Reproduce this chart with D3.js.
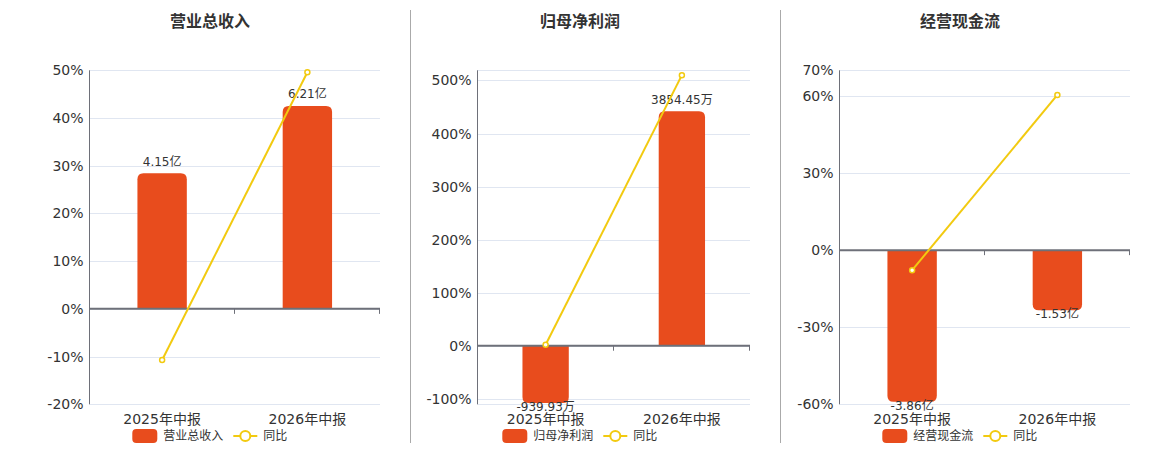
<!DOCTYPE html>
<html>
<head>
<meta charset="utf-8">
<script src="https://cdn.jsdelivr.net/npm/d3@7/dist/d3.min.js"></script>
<style>
html,body{margin:0;padding:0;background:#fff;}
svg{display:block;font-family:"DejaVu Sans","Noto Sans CJK SC",sans-serif;}
</style>
</head>
<body>
<svg id="chart" width="1160" height="450"></svg>
<script>
// ---- data ----
const categories = ["2025年中报", "2026年中报"];
const titles = ["营业总收入", "归母净利润", "经营现金流"];
const units = ["亿", "万", "亿"];
const revenueValues = [4.15, 6.21];
const revenueYoy = [-10.7, 49.6];
const profitValues = [-939.93, 3854.45];
const profitYoy = [1.8, 510.1];
const cashflowValues = [-3.86, -1.53];
const cashflowYoy = [-7.8, 60.4];
const yoyLabel = "同比";
// percent-axis ranges and ticks
const pctDomains = [[-20, 50], [-110.4, 519.2], [-60, 70]];
const pctTicks = [
  [-20, -10, 0, 10, 20, 30, 40, 50],
  [-100, 0, 100, 200, 300, 400, 500],
  [-60, -30, 0, 30, 60, 70]
];
// hidden value-axis ranges for the bars (zero aligned with the 0% line)
const barDomains = [[-2.92, 7.30], [-962, 4528], [-3.926, 4.58]];

const seriesValues = [revenueValues, profitValues, cashflowValues];
const seriesYoy = [revenueYoy, profitYoy, cashflowYoy];

// ---- layout ----
const panels = [
  {left: 89.5, right: 380, center: 210},
  {left: 477.5, right: 750, center: 580},
  {left: 839.5, right: 1130, center: 960}
];
const plotTop = 70.3, plotBottom = 404.3;
const BAR = "#E84C1D", LINE = "#F2CA10", GRID = "#E0E6F1", AXIS = "#6E7079", TXT = "#333";

const svg = d3.select("#chart");

// separators
[410, 780].forEach(xx => {
  svg.append("line").attr("x1", xx + 0.5).attr("x2", xx + 0.5).attr("y1", 10).attr("y2", 443)
    .attr("stroke", "#AAAAAA").attr("stroke-width", 1);
});

panels.forEach((p, i) => {
  const g = svg.append("g");
  const x = d3.scaleBand().domain(categories).range([p.left, p.right]).padding(0);
  const y = d3.scaleLinear().domain(pctDomains[i]).range([plotBottom, plotTop]);
  const yb = d3.scaleLinear().domain(barDomains[i]).range([plotBottom, plotTop]);
  const y0 = y(0);

  // title
  g.append("text").attr("x", p.center).attr("y", 23).attr("text-anchor", "middle")
    .attr("dominant-baseline", "middle").attr("font-size", 16).attr("font-weight", "bold")
    .attr("font-family", "'Noto Sans CJK SC',sans-serif").attr("fill", TXT).text(titles[i]);

  // gridlines: ticks plus domain ends
  const gridVals = Array.from(new Set([...pctTicks[i], ...pctDomains[i]]));
  g.append("g").selectAll("line").data(gridVals).join("line")
    .attr("x1", p.left).attr("x2", p.right)
    .attr("y1", d => Math.round(y(d)) + 0.5).attr("y2", d => Math.round(y(d)) + 0.5)
    .attr("stroke", GRID).attr("stroke-width", 1);

  // y axis (labels only + line)
  const yAxis = d3.axisLeft(y).tickValues(pctTicks[i]).tickSize(0).tickPadding(6)
    .tickFormat(d => d + "%");
  const ya = g.append("g").attr("transform", `translate(${p.left},0)`).call(yAxis);
  ya.select(".domain").remove();
  ya.selectAll("text").attr("font-size", 14).attr("fill", TXT)
    .attr("font-family", "'DejaVu Sans',sans-serif");
  g.append("line").attr("x1", p.left).attr("x2", p.left).attr("y1", plotTop).attr("y2", plotBottom)
    .attr("stroke", AXIS).attr("stroke-width", 1);

  // bars with rounded outer end
  const bw = x.bandwidth() * 0.34;
  const r = 6;
  const vals = seriesValues[i];
  g.append("g").selectAll("path").data(vals).join("path")
    .attr("fill", BAR)
    .attr("d", (d, j) => {
      const cx = x(categories[j]) + x.bandwidth() / 2;
      const x0 = cx - bw / 2, x1 = cx + bw / 2;
      const yv = yb(d), yz = yb(0);
      if (d >= 0) {
        return `M${x0},${yz}V${yv + r}Q${x0},${yv} ${x0 + r},${yv}H${x1 - r}Q${x1},${yv} ${x1},${yv + r}V${yz}Z`;
      } else {
        return `M${x0},${yz}V${yv - r}Q${x0},${yv} ${x0 + r},${yv}H${x1 - r}Q${x1},${yv} ${x1},${yv - r}V${yz}Z`;
      }
    });

  // x axis at zero
  g.append("line").attr("x1", p.left).attr("x2", p.right).attr("y1", y0).attr("y2", y0)
    .attr("stroke", AXIS).attr("stroke-width", 2);
  const bounds = [x(categories[1]), p.right];
  g.append("g").selectAll("line").data(bounds).join("line")
    .attr("x1", d => Math.round(d) - 0.5).attr("x2", d => Math.round(d) - 0.5)
    .attr("y1", y0).attr("y2", y0 + 5).attr("stroke", AXIS).attr("stroke-width", 1);

  // category labels
  g.append("g").selectAll("text").data(categories).join("text")
    .attr("x", d => x(d) + x.bandwidth() / 2).attr("y", 420)
    .attr("text-anchor", "middle").attr("dominant-baseline", "middle")
    .attr("font-size", 14).attr("fill", TXT).text(d => d);

  // bar labels
  g.append("g").selectAll("text").data(vals).join("text")
    .attr("x", (d, j) => x(categories[j]) + x.bandwidth() / 2)
    .attr("y", d => d >= 0 ? yb(d) - 11 : yb(d) + 4.5)
    .attr("text-anchor", "middle").attr("dominant-baseline", "middle")
    .attr("font-size", 12).attr("fill", TXT)
    .text(d => d.toFixed(2) + units[i]);

  // yoy line
  const yoy = seriesYoy[i];
  const line = d3.line().x((d, j) => x(categories[j]) + x.bandwidth() / 2).y(d => y(d));
  g.append("path").datum(yoy).attr("d", line).attr("fill", "none")
    .attr("stroke", LINE).attr("stroke-width", 2);
  g.append("g").selectAll("circle").data(yoy).join("circle")
    .attr("cx", (d, j) => x(categories[j]) + x.bandwidth() / 2).attr("cy", d => y(d))
    .attr("r", 2.5).attr("fill", "#fff").attr("stroke", LINE).attr("stroke-width", 1.5);

  // legend
  const lg = g.append("g").attr("transform", `translate(${p.center},436)`);
  lg.append("rect").attr("x", -77.7).attr("y", -7).attr("width", 25).attr("height", 14)
    .attr("rx", 4).attr("fill", BAR);
  lg.append("text").attr("x", -46.7).attr("y", 0).attr("dominant-baseline", "middle")
    .attr("font-size", 12).attr("fill", TXT).text(titles[i]);
  lg.append("line").attr("x1", 23.3).attr("x2", 47.3).attr("y1", 0).attr("y2", 0)
    .attr("stroke", LINE).attr("stroke-width", 2);
  lg.append("circle").attr("cx", 35.3).attr("cy", 0).attr("r", 5)
    .attr("fill", "#fff").attr("stroke", LINE).attr("stroke-width", 2);
  lg.append("text").attr("x", 53.3).attr("y", 0).attr("dominant-baseline", "middle")
    .attr("font-size", 12).attr("fill", TXT).text(yoyLabel);
});
</script>
</body>
</html>
